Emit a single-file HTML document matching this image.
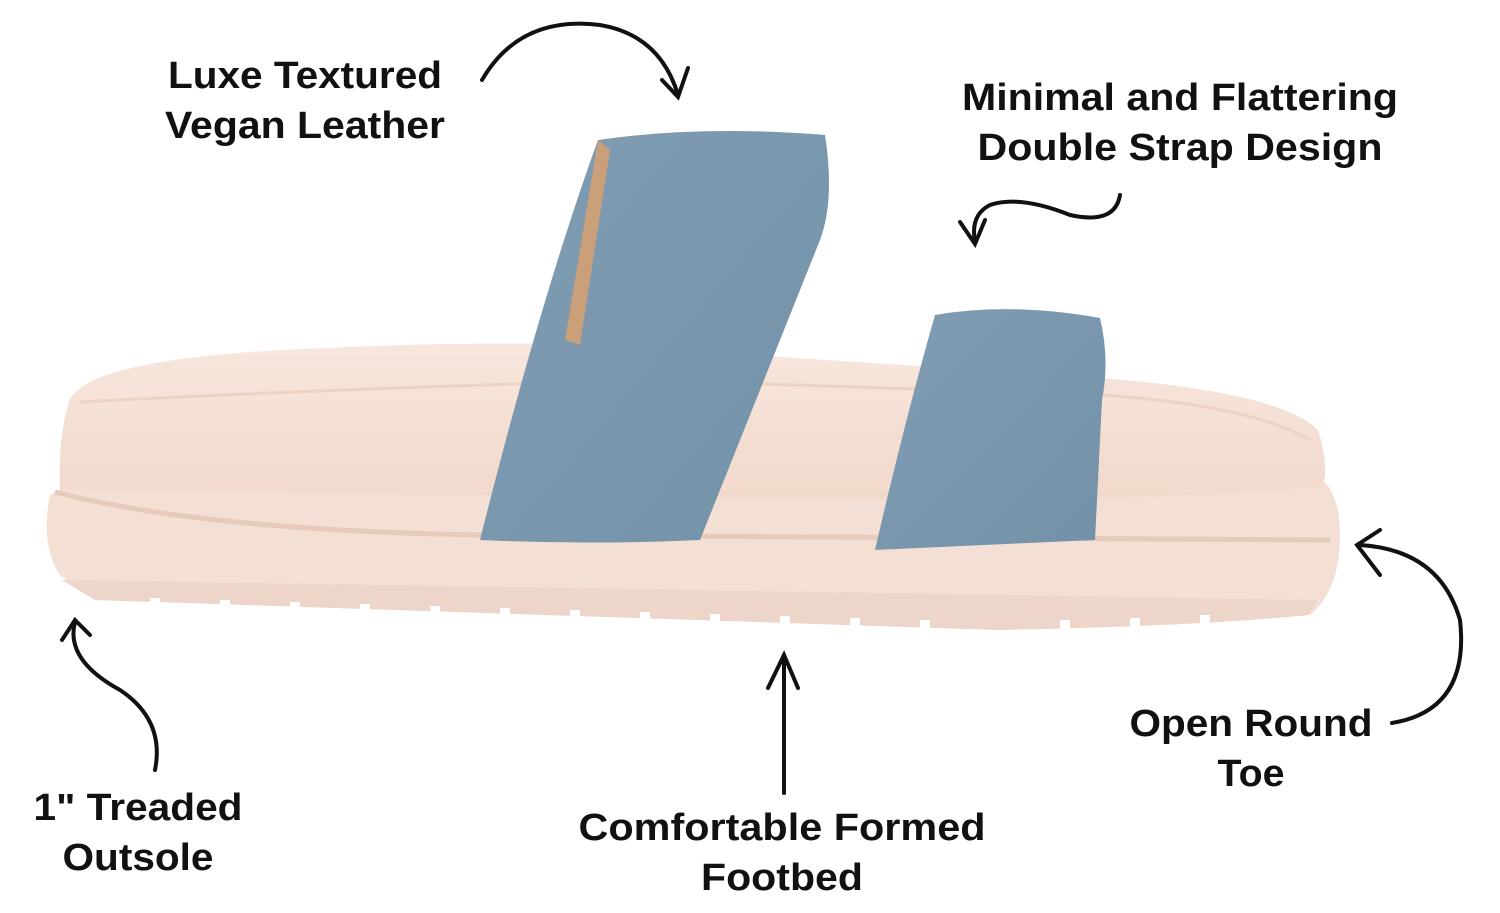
<!DOCTYPE html>
<html><head><meta charset="utf-8"><style>
html,body{margin:0;padding:0;background:#fff;}
svg{display:block}
text{font-family:"Liberation Sans",sans-serif;font-weight:bold;font-size:38px;fill:#111;text-anchor:middle}
</style></head><body>
<svg width="1500" height="913" viewBox="0 0 1500 913">
<defs>
<linearGradient id="fb" x1="0" y1="0" x2="0" y2="1"><stop offset="0" stop-color="#f8e6dc"/><stop offset="1" stop-color="#f1d9cc"/></linearGradient>
<linearGradient id="bl" x1="0" y1="0" x2="1" y2="1"><stop offset="0" stop-color="#809db3"/><stop offset="1" stop-color="#7391a8"/></linearGradient>
</defs>
<!-- outsole -->
<path d="M50 495 Q40 545 60 575 L95 600 L1000 630 Q1200 625 1310 615 Q1340 590 1340 535 Q1340 500 1325 482 Q1200 496 60 490 Z" fill="#f3dfd3"/>
<path d="M62 580 L1318 600 L1308 615 Q1200 626 1000 630 L95 600 Z" fill="#edd6c9"/>
<g fill="#fff">
<rect x="150" y="598" width="10" height="10"/><rect x="220" y="600" width="10" height="10"/><rect x="290" y="602" width="10" height="10"/><rect x="360" y="604" width="10" height="10"/><rect x="430" y="606" width="10" height="10"/><rect x="500" y="608" width="10" height="10"/><rect x="570" y="610" width="10" height="10"/><rect x="640" y="612" width="10" height="10"/><rect x="710" y="614" width="10" height="10"/><rect x="780" y="616" width="10" height="10"/><rect x="850" y="618" width="10" height="10"/><rect x="920" y="620" width="10" height="10"/><rect x="1060" y="620" width="10" height="10"/><rect x="1130" y="618" width="10" height="10"/><rect x="1200" y="615" width="10" height="10"/>
</g>
<path d="M55 492 Q200 530 480 535 L1330 540" fill="none" stroke="#e6cbbd" stroke-width="5"/>
<!-- footbed -->
<path d="M68 405 Q75 365 250 352 Q450 340 600 345 L1100 378 Q1280 392 1318 430 Q1330 470 1322 486 Q1200 500 900 500 L60 490 Q58 440 68 405 Z" fill="url(#fb)"/>
<path d="M80 402 Q300 390 640 380 L1100 395 Q1250 405 1310 440" fill="none" stroke="#ecd2c4" stroke-width="3"/>
<!-- straps -->
<path d="M598 140 Q700 125 825 135 Q835 200 820 240 L700 540 Q590 545 480 540 Q540 300 598 140 Z" fill="url(#bl)"/>
<path d="M565 340 L598 140 L610 150 L580 345 Z" fill="#caa07a"/>
<path d="M935 315 Q1010 302 1100 318 Q1110 360 1102 400 L1095 540 Q980 545 875 550 Q905 420 935 315 Z" fill="url(#bl)"/>
<!-- arrows -->
<g fill="none" stroke="#111" stroke-width="4" stroke-linecap="round">
<path d="M482 80 Q520 15 600 25 Q660 35 678 95"/><path d="M662 80 L678 97 L688 68"/>
<path d="M1120 195 Q1115 225 1070 215 Q1020 195 990 205 Q970 215 975 242"/><path d="M960 222 L975 244 L985 220"/>
<path d="M155 770 Q165 720 120 690 Q65 660 75 622"/><path d="M62 640 L75 620 L90 635"/>
<path d="M784 793 L784 655"/><path d="M768 688 L784 655 L798 688"/>
<path d="M1392 723 Q1470 710 1460 620 Q1440 550 1360 545"/><path d="M1380 530 L1357 545 L1380 575"/>
</g>
<text x="305" y="88" textLength="274" lengthAdjust="spacingAndGlyphs">Luxe Textured</text><text x="305" y="138" textLength="280" lengthAdjust="spacingAndGlyphs">Vegan Leather</text>
<text x="1180" y="110" textLength="436" lengthAdjust="spacingAndGlyphs">Minimal and Flattering</text><text x="1180" y="160" textLength="405" lengthAdjust="spacingAndGlyphs">Double Strap Design</text>
<text x="138" y="820" textLength="209" lengthAdjust="spacingAndGlyphs">1" Treaded</text><text x="138" y="870" textLength="151" lengthAdjust="spacingAndGlyphs">Outsole</text>
<text x="782" y="840" textLength="407" lengthAdjust="spacingAndGlyphs">Comfortable Formed</text><text x="782" y="890" textLength="162" lengthAdjust="spacingAndGlyphs">Footbed</text>
<text x="1251" y="736" textLength="243" lengthAdjust="spacingAndGlyphs">Open Round</text><text x="1251" y="786" textLength="67" lengthAdjust="spacingAndGlyphs">Toe</text>
</svg>
</body></html>
